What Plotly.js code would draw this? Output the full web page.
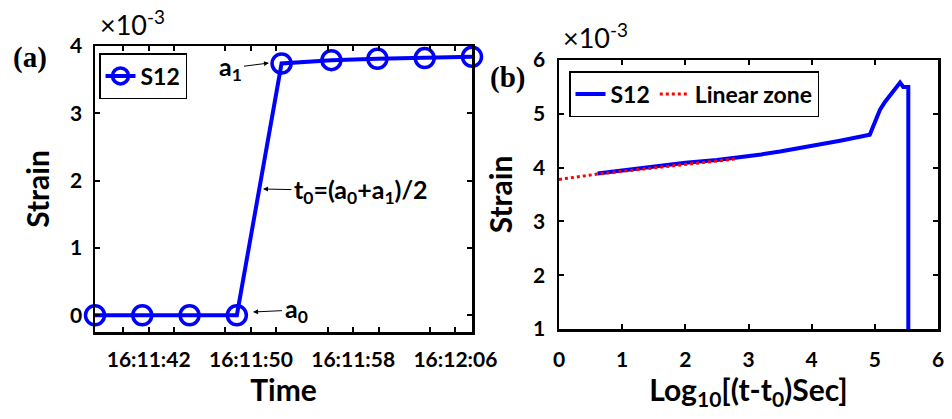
<!DOCTYPE html>
<html>
<head>
<meta charset="utf-8">
<script src="https://cdn.plot.ly/plotly-3.0.1.min.js"></script>
<style>html,body{margin:0;padding:0;background:#fff;}</style>
</head>
<body>
<div id="chart" style="width:952px;height:419px;"></div>
<script>
// ---- Panel (a): strain vs time (values in units of 1e-3) ----
const timeA = [
  '2017-01-01 16:11:37.8', '2017-01-01 16:11:41.5', '2017-01-01 16:11:45.2',
  '2017-01-01 16:11:48.9', '2017-01-01 16:11:52.4', '2017-01-01 16:11:56.3',
  '2017-01-01 16:11:59.9', '2017-01-01 16:12:03.6', '2017-01-01 16:12:07.3'
];
const strainA = [0, 0, 0, 0, 3.74, 3.79, 3.81, 3.82, 3.84];
const timeTick0 = '2017-01-01 16:11:42';

// ---- Panel (b): strain vs log10(t - t0) (values in units of 1e-3) ----
const logT = [0.61, 1.0, 1.52, 2.0, 2.5, 2.87, 3.2, 3.5, 3.92, 4.45, 4.92, 5.00, 5.08, 5.16, 5.29, 5.40, 5.45, 5.53, 5.53];
const strainB = [3.89, 3.95, 4.03, 4.09, 4.14, 4.19, 4.245, 4.30, 4.385, 4.50, 4.61, 4.82, 5.07, 5.22, 5.41, 5.58, 5.50, 5.50, 1.0];
const linX = [0, 0.61, 2.79];
const linY = [3.78, 3.88, 4.16];

const W = 952, H = 419;
const FF = 'Lato, "Open Sans", sans-serif';
const px = v => v / W;
const py = v => 1 - v / H;

const axisCommon = {
  showline: true, linewidth: 2.5, linecolor: '#000', mirror: 'ticks',
  ticks: 'inside', ticklen: 5, tickwidth: 2, tickcolor: '#000',
  showgrid: false, zeroline: false,
  tickfont: {family: FF, size: 21, weight: 'bold', color: '#000'}
};
const titleFont = {family: FF, size: 30, weight: 'bold', color: '#000'};

const traces = [
  {
    x: timeA, y: strainA, name: 'S12', type: 'scatter', mode: 'lines+markers',
    xaxis: 'x', yaxis: 'y', legend: 'legend', cliponaxis: false,
    line: {color: '#0000ff', width: 4},
    marker: {symbol: 'circle-open', size: 19, color: '#0000ff', line: {width: 3.5, color: '#0000ff'}}
  },
  {
    x: logT, y: strainB, name: 'S12', type: 'scatter', mode: 'lines',
    xaxis: 'x2', yaxis: 'y2', legend: 'legend2',
    line: {color: '#0000ff', width: 4}
  },
  {
    x: linX, y: linY, name: 'Linear zone', type: 'scatter', mode: 'lines',
    xaxis: 'x2', yaxis: 'y2', legend: 'legend2', cliponaxis: false,
    line: {color: '#ff0000', width: 3, dash: 'dot'}
  }
];

const annFont = {family: FF, size: 25, weight: 'bold', color: '#000'};
const arrowAnn = (text, hx, hy, tx, ty) => ({
  text: text, xref: 'paper', yref: 'paper', x: px(hx), y: py(hy),
  ax: tx - hx, ay: ty - hy, showarrow: true, arrowhead: 2, arrowsize: 1,
  arrowwidth: 1, arrowcolor: '#000', standoff: 0, startstandoff: 2, borderpad: 0,
  font: annFont
});

const layout = {
  width: W, height: H,
  margin: {l: 0, r: 0, t: 0, b: 0},
  paper_bgcolor: '#fff', plot_bgcolor: '#fff',
  showlegend: true,
  xaxis: Object.assign({}, axisCommon, {
    type: 'date', domain: [px(95), px(472)], anchor: 'y',
    range: [timeA[0], timeA[timeA.length - 1]],
    tickformat: '%H:%M:%S', tick0: timeTick0, dtick: 8000,
    ticklabelstandoff: 7,
    minor: {dtick: 4000, ticks: 'inside', ticklen: 5, tickwidth: 2, tickcolor: '#000', showgrid: false},
    title: {text: 'Time', font: titleFont, standoff: 9}
  }),
  yaxis: Object.assign({}, axisCommon, {
    domain: [py(332), py(46)], anchor: 'x',
    range: [-0.25, 4], tick0: 0, dtick: 1, ticklabelstandoff: 6,
    title: {text: 'Strain', font: titleFont, standoff: 12}
  }),
  xaxis2: Object.assign({}, axisCommon, {
    domain: [px(559), px(938)], anchor: 'y2',
    range: [0, 6], tick0: 0, dtick: 1, ticklabelstandoff: 10,
    title: {text: 'Log<sub>10</sub>[(t-t<sub>0</sub>)Sec]', font: titleFont, standoff: 8}
  }),
  yaxis2: Object.assign({}, axisCommon, {
    domain: [py(329), py(60)], anchor: 'x2',
    range: [1, 6], tick0: 1, dtick: 1, ticklabelstandoff: 7,
    title: {text: 'Strain', font: titleFont, standoff: 12}
  }),
  legend: {
    x: px(99), y: py(53), xanchor: 'left', yanchor: 'top',
    bgcolor: '#fff', bordercolor: '#000', borderwidth: 1.5,
    font: {family: FF, size: 23, weight: 'bold', color: '#000'},
    itemwidth: 30, tracegroupgap: 0
  },
  legend2: {
    x: px(569), y: py(71), xanchor: 'left', yanchor: 'top', orientation: 'h',
    bgcolor: '#fff', bordercolor: '#000', borderwidth: 1.5,
    font: {family: FF, size: 23, weight: 'bold', color: '#000'},
    itemwidth: 30
  },
  annotations: [
    {text: '(a)', xref: 'paper', yref: 'paper', x: px(11), y: py(58), xanchor: 'left', yanchor: 'middle', showarrow: false,
     font: {family: '"Liberation Serif", serif', size: 29, weight: 'bold', color: '#000'}},
    {text: '(b)', xref: 'paper', yref: 'paper', x: px(488), y: py(78), xanchor: 'left', yanchor: 'middle', showarrow: false,
     font: {family: '"Liberation Serif", serif', size: 29, weight: 'bold', color: '#000'}},
    {text: '×10<sup>-3</sup>', xref: 'paper', yref: 'paper', x: px(98), y: py(23), xanchor: 'left', yanchor: 'middle', showarrow: false,
     font: {family: FF, size: 27, color: '#000'}},
    {text: '×10<sup>-3</sup>', xref: 'paper', yref: 'paper', x: px(561), y: py(36), xanchor: 'left', yanchor: 'middle', showarrow: false,
     font: {family: FF, size: 27, color: '#000'}},
    arrowAnn('a<sub>1</sub>', 269, 63, 230, 68),
    arrowAnn('t<sub>0</sub>=(a<sub>0</sub>+a<sub>1</sub>)/2', 263, 189, 361, 191),
    arrowAnn('a<sub>0</sub>', 253, 312, 296, 310)
  ]
};

Plotly.newPlot('chart', traces, layout, {displayModeBar: false, staticPlot: true});
</script>
</body>
</html>
